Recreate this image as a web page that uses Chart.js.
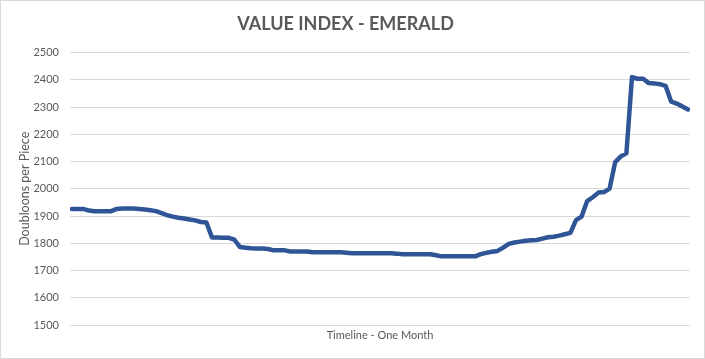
<!DOCTYPE html>
<html lang="en">
<head>
<meta charset="UTF-8">
<title>Value Index - Emerald</title>
<script src="https://cdn.jsdelivr.net/npm/chart.js@4"></script>
<style>
    body { margin: 0; background: #fff; }
    .wrap { position: relative; width: 705px; height: 359px; box-sizing: border-box; border: 1px solid #d9d9d9; background: #fff; }
</style>
</head>
<body>
<div class="wrap"><canvas id="chart"></canvas></div>
<script>
// values, one per sample across the month
const prices = [
    1926, 1926, 1926, 1920, 1918, 1918, 1918, 1918, 1926, 1928,
    1928, 1928, 1926, 1924, 1921, 1918, 1911, 1903, 1898, 1894,
    1891, 1887, 1884, 1878, 1876, 1821, 1821, 1820, 1820, 1813,
    1786, 1784, 1782, 1781, 1781, 1779, 1774, 1774, 1774, 1770,
    1770, 1770, 1770, 1767, 1767, 1767, 1767, 1767, 1767, 1765,
    1763, 1763, 1763, 1763, 1763, 1763, 1763, 1763, 1762, 1760,
    1760, 1760, 1760, 1760, 1760, 1756, 1752, 1752, 1752, 1752,
    1752, 1752, 1752, 1760, 1765, 1769, 1772, 1784, 1798, 1803,
    1806, 1809, 1811, 1812, 1817, 1822, 1824, 1828, 1833, 1838,
    1885, 1898, 1955, 1969, 1986, 1988, 2001, 2098, 2119, 2130,
    2410, 2404, 2404, 2388, 2387, 2384, 2378, 2320, 2313, 2302,
    2291
];
const yTicks = [1500, 1600, 1700, 1800, 1900, 2000, 2100, 2200, 2300, 2400, 2500];

const chartTitle = 'VALUE INDEX - EMERALD';
const xTitle = 'Timeline - One Month';
const yTitle = 'Doubloons per Piece';

const grey = '#595959';

new Chart(document.getElementById('chart'), {
    type: 'line',
    data: {
        datasets: [{
            data: prices.map((v, i) => ({ x: i, y: v })),
            borderColor: '#2f5597',
            borderWidth: 4.5,
            borderJoinStyle: 'round',
            borderCapStyle: 'round',
            pointRadius: 0,
            tension: 0
        }]
    },
    options: {
        responsive: true,
        maintainAspectRatio: false,
        animation: false,
        layout: { padding: { left: 0, right: 14, top: 0, bottom: 0 } },
        plugins: {
            legend: { display: false },
            tooltip: { enabled: false },
            title: {
                display: true,
                text: chartTitle,
                color: grey,
                font: { family: 'Lato, "Open Sans", sans-serif', size: 18, weight: 'bold' },
                padding: { top: 12, bottom: 18 }
            }
        },
        scales: {
            x: {
                type: 'linear',
                min: -0.36,
                max: prices.length - 1 + 0.36,
                afterFit: s => { s.height = 33; },
                grid: { display: false },
                border: { display: false },
                ticks: { display: false },
                title: {
                    display: true,
                    text: xTitle,
                    color: grey,
                    font: { family: 'Lato, sans-serif', size: 11 },
                    padding: { top: 0, bottom: 16 }
                }
            },
            y: {
                min: yTicks[0],
                max: yTicks[yTicks.length - 1],
                afterBuildTicks: s => { s.ticks = yTicks.map(v => ({ value: v })); },
                afterFit: s => { s.width = 69; },
                grid: { color: '#d9d9d9', lineWidth: 1, drawTicks: false },
                border: { display: false },
                ticks: {
                    color: grey,
                    padding: 11,
                    font: { family: 'Lato, sans-serif', size: 11 },
                    callback: v => String(v)
                },
                title: {
                    display: true,
                    text: yTitle,
                    color: grey,
                    font: { family: 'Lato, sans-serif', size: 12.5 },
                    padding: { top: 16, bottom: 0 }
                }
            }
        }
    }
});
</script>
</body>
</html>
